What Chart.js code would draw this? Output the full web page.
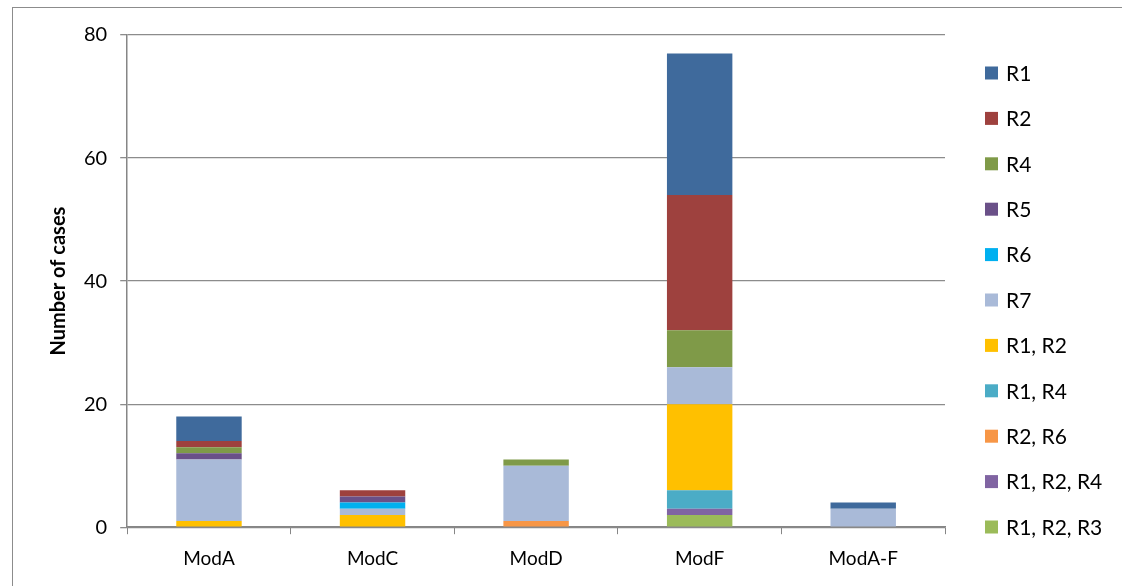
<!DOCTYPE html>
<html>
<head>
<meta charset="utf-8">
<script src="https://cdn.jsdelivr.net/npm/chart.js@4.4.1/dist/chart.umd.min.js"></script>
<style>
  html, body { margin: 0; padding: 0; background: #fff; }
  #wrap { position: relative; width: 1122px; height: 586px; overflow: hidden; }
  #frame { position: absolute; left: 12px; top: 7px; width: 1120px; height: 600px; border: 1px solid #8c8c8c; pointer-events: none; }
  canvas { position: absolute; left: 0; top: 0; }
</style>
</head>
<body>
<div id="wrap">
  <canvas id="chart" width="1122" height="586"></canvas>
  <div id="frame"></div>
</div>
<script>
// ── Dados ────
const modulos = ['ModA', 'ModC', 'ModD', 'ModF', 'ModA-F'];
const yTicks = [0, 20, 40, 60, 80];

// series, bottom of the stack first
const r1r2r3 = [0, 0, 0, 2, 0];
const r1r2r4 = [0, 0, 0, 1, 0];
const r2r6   = [0, 0, 1, 0, 0];
const r1r4   = [0, 0, 0, 3, 0];
const r1r2   = [1, 2, 0, 14, 0];
const r7     = [10, 1, 9, 6, 3];
const r6     = [0, 1, 0, 0, 0];
const r5     = [1, 1, 0, 0, 0];
const r4     = [1, 0, 1, 6, 0];
const r2     = [1, 1, 0, 22, 0];
const r1     = [4, 0, 0, 23, 1];

const series = [
    { label: 'R1, R2, R3', data: r1r2r3, cor: '#9BBB59' },
    { label: 'R1, R2, R4', data: r1r2r4, cor: '#8064A2' },
    { label: 'R2, R6',     data: r2r6,   cor: '#F79646' },
    { label: 'R1, R4',     data: r1r4,   cor: '#4BACC6' },
    { label: 'R1, R2',     data: r1r2,   cor: '#FFC000' },
    { label: 'R7',         data: r7,     cor: '#A9BAD8' },
    { label: 'R6',         data: r6,     cor: '#00B0F0' },
    { label: 'R5',         data: r5,     cor: '#6A5088' },
    { label: 'R4',         data: r4,     cor: '#7F9A48' },
    { label: 'R2',         data: r2,     cor: '#9E413E' },
    { label: 'R1',         data: r1,     cor: '#3F6A9C' },
];

const FONTE = "Lato, 'Open Sans', sans-serif";
Chart.defaults.font.family = FONTE;
Chart.defaults.color = '#000';

// ── Legenda lateral (R1 no topo, como a pilha) ────
const legendaLateral = {
    id: 'legendaLateral',
    afterDraw(chart) {
        const ctx = chart.ctx;
        const xCaixa = 985, xTexto = 1006, yInicio = 73, passo = 45.4, lado = 13;
        const itens = chart.data.datasets.slice().reverse();
        ctx.save();
        ctx.font = `21px ${FONTE}`;
        ctx.textBaseline = 'middle';
        ctx.textAlign = 'left';
        itens.forEach((ds, i) => {
            const y = yInicio + i * passo;
            ctx.fillStyle = ds.backgroundColor;
            ctx.fillRect(xCaixa, y - lado / 2, lado, lado);
            ctx.fillStyle = '#000';
            ctx.fillText(ds.label, xTexto, y + 1);
        });
        ctx.restore();
    }
};

new Chart(document.getElementById('chart'), {
    type: 'bar',
    data: {
        labels: modulos,
        datasets: series.map(s => ({
            label: s.label,
            data: s.data,
            backgroundColor: s.cor,
            borderWidth: 0,
            barPercentage: 0.4,
            categoryPercentage: 1,
        }))
    },
    options: {
        responsive: false,
        animation: false,
        layout: { padding: { left: 47, top: 35, right: 177, bottom: 3 } },
        plugins: {
            tooltip: { enabled: false },
            legend: { display: false }
        },
        scales: {
            x: {
                stacked: true,
                border: { color: '#868686', width: 1.5 },
                grid: { offset: true, drawOnChartArea: false, drawTicks: true, tickLength: 7, color: '#868686' },
                ticks: { font: { size: 19 }, padding: 13, color: '#000' }
            },
            y: {
                stacked: true,
                min: 0,
                max: 80,
                afterBuildTicks(axis) { axis.ticks = yTicks.map(v => ({ value: v })); },
                border: { color: '#868686', width: 1.5 },
                grid: { color: '#8c8c8c', lineWidth: 1.3, tickLength: 7 },
                ticks: { font: { size: 20 }, padding: 13, color: '#000' },
                title: {
                    display: true,
                    text: 'Number of cases',
                    font: { size: 20, weight: 'bold' },
                    padding: { top: 0, bottom: 0 },
                    color: '#000'
                }
            }
        }
    },
    plugins: [legendaLateral]
});
</script>
</body>
</html>
